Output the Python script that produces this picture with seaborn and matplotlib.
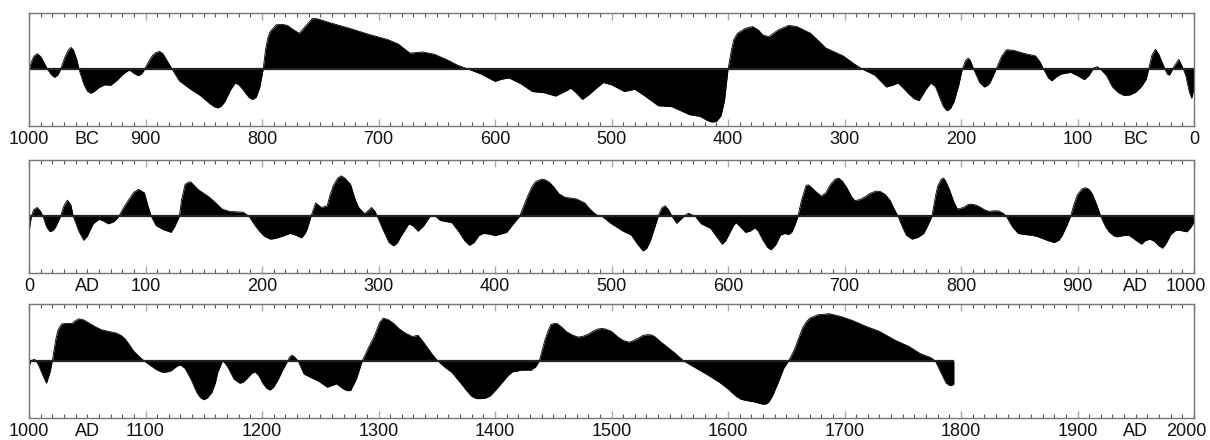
import numpy as np
import pandas as pd
import matplotlib
matplotlib.use("Agg")
import matplotlib.pyplot as plt
import matplotlib.transforms as mtransforms
import seaborn as sns

# ---------------- data ----------------
# Panel 1: (year BC, value), 1000 BC -> 0
bc_points = [(1000,0),(998,1.3),(996,2.3),(993,2.8),(990,2.3),(987,1.2),(984,0),(981,-0.9),(978,-1.4),
    (975,-0.9),(973,0),(969,2.3),(966,3.5),(964,3.9),(962,3.5),(959,1.8),(957,0),(953,-2.6),(950,-3.8),
    (947,-4.2),(944,-3.9),(940,-3.2),(935,-2.7),(930,-2.8),(925,-2.0),(919,-0.8),(915,-0.2),(913,-0.2),
    (909,-0.8),(906,-1.1),(903,-0.7),(901,0),(897,1.5),(894,2.5),(891,3.0),(888,3.2),(885,2.8),(881,1.4),
    (877,0),(871,-2.0),(862,-3.4),(853,-4.6),(845,-6.0),(841,-6.6),(838,-6.8),(835,-6.5),(832,-5.7),
    (827,-3.6),(823,-2.4),(820,-2.7),(817,-3.4),(811,-5.0),(808,-5.3),(805,-4.9),(802,-3.2),(799,0),
    (797,3.5),(795,5.6),(793,6.7),(788,7.9),(783,8.0),(778,7.8),(775,7.3),(768,6.4),(763,7.6),(757,9.0),
    (753,9.0),(742,8.3),(725,7.3),(708,6.2),(692,5.3),(683,4.5),(673,2.9),(662,3.1),(652,2.7),(642,1.8),
    (632,0.75),(622,0),(612,-0.8),(600,-2.1),(594,-1.7),(588,-1.5),(578,-2.5),(568,-3.9),(558,-4.1),
    (548,-4.7),(540,-3.9),(535,-3.3),(530,-4.2),(525,-5.3),(519,-4.4),(513,-3.3),(507,-2.3),(500,-2.7),
    (489,-3.9),(480,-3.5),(472,-4.6),(460,-6.4),(448,-6.6),(433,-8.0),(424,-8.3),(418,-9.0),(414,-9.3),
    (410,-9.2),(406,-8.2),(403,-5.5),(400,0),(397,3.5),(395,5.3),(392,6.4),(385,7.3),(379,7.6),(374,7.0),
    (370,6.1),(365,5.8),(357,7.0),(348,7.8),(341,7.6),(329,6.4),(316,3.8),(301,2.4),(291,0.9),(284,0),
    (274,-1.0),(264,-3.1),(259,-2.8),(254,-2.4),(249,-3.4),(245,-4.3),(240,-5.2),(236,-5.5),(230,-3.5),
    (226,-2.4),(222,-3.0),(218,-5.1),(215,-6.6),(212,-7.3),(209,-6.9),(206,-5.7),(202,-2.8),(199,0),
    (196,1.6),(194,2.0),(192,1.6),(189,0),(184,-2.3),(180,-3.1),(177,-2.8),(175,-2.3),(170,0),(165,2.4),
    (161,3.5),(155,3.4),(145,2.8),(136,2.4),(132,1.3),(129,0),(125,-1.5),(122,-2.0),(118,-1.3),
    (114,-0.8),(106,-0.5),(100,-1.1),(94,-1.8),(90,-1.0),(86,0.3),(83,0.5),(80,0.0),(75,-1.1),(70,-3.1),
    (65,-4.1),(60,-4.6),(55,-4.5),(50,-4.0),(45,-3.0),(41,-1.7),(39,0),(36,2.6),(33,3.6),(30,2.6),
    (26,0.6),(23,-0.8),(21,-1.0),(17,0.6),(13,1.8),(10,0.5),(7,-1.1),(4,-4.0),(2,-5.1),(0,-3.4)]

# Panel 2: (year AD, value), 0 -> 1000
ad1_points = [(0,-2.7),(2,0),(4,1.2),(7,1.6),(10,0.9),(12,0),(15,-1.8),(18,-2.7),(21,-2.4),(23,-1.8),
    (27,0),(30,1.9),(33,2.9),(36,2.0),(38,0),(43,-2.7),(47,-4.2),(50,-3.5),(55,-1.3),(60,-0.5),(64,-0.8),
    (68,-1.3),(72,-1.0),(74,-0.7),(77,0),(81,1.5),(85,2.8),(90,4.3),(94,4.8),(99,4.2),(102,2.0),(105,0),
    (109,-1.6),(115,-2.3),(122,-2.8),(125,-1.8),(129,0),(131,3.0),(134,5.7),(137,6.1),(139,6.1),(145,4.8),
    (155,3.4),(166,1.3),(172,0.9),(184,0.75),(189,0),(193,-1.3),(197,-2.4),(202,-3.5),(207,-4.0),
    (211,-3.9),(216,-3.6),(224,-3.0),(229,-3.3),(234,-3.8),(237,-3.0),(239,-2.1),(242,0),(246,2.4),
    (251,1.6),(256,1.9),(258,3.5),(261,5.4),(265,6.8),(268,7.2),(271,6.8),(276,5.7),(280,3.0),(283,1.6),
    (288,0.5),(291,1.0),(294,1.6),(297,0.9),(299,0),(304,-2.4),(309,-4.6),(313,-5.2),(316,-4.7),
    (319,-3.6),(326,-1.3),(330,-1.7),(334,-2.6),(339,-1.6),(344,0),(348,0.2),(353,-0.7),(363,-1.1),
    (369,-2.7),(374,-4.3),(378,-5.1),(382,-4.6),(386,-3.4),(390,-3.0),(395,-3.1),(400,-3.4),(410,-2.8),
    (415,-1.5),(421,0),(428,3.6),(432,5.4),(435,6.2),(440,6.6),(443,6.5),(447,6.0),(451,5.1),(455,4.0),
    (460,3.4),(470,3.1),(477,2.4),(482,1.2),(487,0.3),(492,0),(500,-1.3),(510,-2.6),(517,-3.3),
    (522,-4.8),(527,-6.1),(530,-5.7),(533,-4.5),(537,-2.0),(540,0),(543,1.5),(546,1.9),(549,1.2),
    (552,0),(556,-1.2),(559,-0.6),(562,0),(566,0.6),(569,0.3),(572,0),(577,-1.3),(585,-2.1),(590,-3.5),
    (595,-4.9),(598,-4.3),(602,-2.7),(605,-1.5),(607,-1.1),(610,-1.7),(615,-2.8),(619,-2.6),(623,-2.0),
    (626,-2.6),(630,-4.2),(634,-5.5),(637,-5.9),(641,-5.0),(645,-3.3),(649,-3.0),(652,-3.2),(655,-2.7),
    (658,-1.2),(660,0),(663,2.8),(667,5.5),(669,5.6),(672,5.1),(676,4.3),(680,3.6),(684,4.2),(688,5.7),
    (692,6.6),(695,6.8),(698,6.3),(702,5.1),(706,3.5),(709,2.8),(713,3.0),(717,3.4),(722,4.1),(727,4.5),
    (731,4.4),(735,3.9),(739,2.9),(742,1.6),(746,0),(750,-2.0),(753,-3.3),(758,-4.0),(763,-3.7),
    (768,-3.0),(771,-1.8),(775,0),(778,3.5),(780,5.4),(783,6.6),(785,6.8),(787,6.2),(790,4.8),(794,2.5),
    (797,1.3),(802,1.6),(806,2.1),(809,2.2),(813,2.0),(817,1.6),(820,1.2),(824,0.9),(828,1.0),(832,1.0),
    (836,0.6),(839,0),(844,-1.8),(849,-3.0),(855,-3.2),(860,-3.3),(865,-3.5),(870,-3.9),(875,-4.3),
    (880,-4.6),(884,-4.2),(887,-3.3),(891,-1.5),(894,0),(897,2.2),(900,3.9),(904,4.9),(907,5.1),
    (910,4.8),(913,3.9),(917,1.8),(920,0),(924,-1.8),(927,-2.7),(931,-3.4),(934,-3.6),(939,-3.4),
    (944,-3.3),(950,-4.2),(955,-4.9),(958,-4.3),(962,-4.0),(966,-4.4),(970,-5.2),(973,-5.6),(976,-4.8),
    (980,-3.2),(984,-2.5),(987,-2.4),(991,-2.6),(994,-2.7),(997,-2.0),(1000,-1.0)]

# Panel 3: (year AD, value), 1000 -> 2000 (record ends ~1794)
ad2_points = [(1000,-0.9),(1002,0.1),(1005,0.3),(1008,-0.6),(1012,-2.6),(1015,-3.9),(1018,-2.0),(1020,0),
    (1023,3.8),(1025,5.5),(1028,6.5),(1032,6.6),(1037,6.6),(1040,7.1),(1043,7.4),(1047,7.2),(1052,6.6),
    (1057,6.0),(1062,5.5),(1068,5.2),(1075,4.9),(1079,4.5),(1082,4.0),(1086,2.9),(1090,1.7),(1095,0.7),
    (1099,0),(1105,-0.9),(1110,-1.6),(1115,-2.0),(1119,-1.9),(1122,-1.7),(1127,-0.9),(1130,-0.7),
    (1134,-1.3),(1139,-3.2),(1144,-5.5),(1147,-6.4),(1150,-6.8),(1153,-6.5),(1157,-5.5),(1160,-3.8),
    (1162,-2.0),(1166,0),(1168,-0.3),(1171,-1.2),(1176,-3.2),(1181,-3.9),(1184,-3.7),(1187,-3.1),
    (1191,-2.2),(1194,-1.9),(1197,-2.5),(1201,-4.0),(1204,-4.8),(1207,-5.1),(1210,-4.6),(1214,-3.2),
    (1218,-1.5),(1222,0),(1224,0.8),(1226,1.0),(1228,0.7),(1231,0),(1236,-2.3),(1242,-2.9),(1249,-3.6),
    (1256,-4.6),(1260,-4.3),(1264,-4.0),(1269,-4.8),(1273,-5.2),(1276,-5.2),(1281,-3.2),(1286,0),
    (1292,2.6),(1296,4.2),(1298,5.2),(1301,6.8),(1304,7.5),(1308,7.3),(1313,6.6),(1318,5.6),(1323,4.9),
    (1329,4.3),(1334,4.5),(1339,3.2),(1346,1.2),(1351,0),(1357,-1.1),(1363,-2.0),(1371,-4.0),(1376,-5.3),
    (1380,-6.2),(1384,-6.6),(1388,-6.6),(1392,-6.5),(1396,-6.1),(1401,-5.0),(1406,-3.8),(1411,-2.6),
    (1415,-1.9),(1423,-1.6),(1431,-1.6),(1435,-1.0),(1438,0),(1443,3.8),(1446,5.5),(1448,6.4),(1451,6.6),
    (1453,6.6),(1457,6.0),(1461,5.2),(1466,4.6),(1471,4.2),(1475,4.3),(1480,4.7),(1484,5.2),(1488,5.6),
    (1492,5.7),(1495,5.6),(1500,5.2),(1505,4.3),(1510,3.6),(1515,3.3),(1519,3.6),(1523,4.0),(1527,4.5),
    (1530,4.6),(1534,4.6),(1537,4.3),(1542,3.4),(1547,2.6),(1555,1.3),(1562,0),(1573,-1.3),(1583,-2.5),
    (1593,-3.8),(1600,-4.9),(1607,-6.2),(1611,-6.7),(1615,-6.9),(1623,-7.2),(1630,-7.6),(1633,-7.5),
    (1635,-7.2),(1638,-6.2),(1642,-4.3),(1648,-1.2),(1652,0),(1657,2.0),(1661,4.2),(1664,5.8),(1667,6.8),
    (1670,7.5),(1677,8.1),(1687,8.3),(1697,7.8),(1707,7.1),(1717,6.2),(1730,5.2),(1744,3.6),(1755,2.6),
    (1765,1.3),(1774,0.6),(1778,0),(1782,-1.7),(1787,-3.8),(1790,-4.3),(1792,-4.3),(1794,-4.0)]

# tick labels
p1_ticks = [1000, 900, 800, 700, 600, 500, 400, 300, 200, 100, 0]
p2_ticks = [0, 100, 200, 300, 400, 500, 600, 700, 800, 900, 1000]
p3_ticks = [1000, 1100, 1200, 1300, 1400, 1500, 1600, 1700, 1800, 1900, 2000]
era_labels = ["BC", "AD", "AD"]

# ---------------- plotting ----------------
sns.set_theme(style="white")
plt.rcParams["font.family"] = ["Liberation Sans", "DejaVu Sans"]

FS = 13
PAD = 3.5
fig = plt.figure(figsize=(12.1, 4.4), dpi=100)
left, width = 29 / 1210, 1165 / 1210
rects = [(126, 113), (273, 113), (418, 114)]

def frame(points, sign):
    yrs, vals = zip(*points)
    return pd.DataFrame({"x": [sign * y for y in yrs], "v": list(vals)})

panels = [
    (frame(bc_points, -1), (-1000, 0), [-t for t in p1_ticks], [str(t) for t in p1_ticks], [-950, -50]),
    (frame(ad1_points, 1), (0, 1000), p2_ticks, [str(t) for t in p2_ticks], [50, 950]),
    (frame(ad2_points, 1), (1000, 2000), p3_ticks, [str(t) for t in p3_ticks], [1050, 1950]),
]

for i, ((df, xlim, ticks, labels, era_pos), (bot, h)) in enumerate(zip(panels, rects)):
    ax = fig.add_axes([left, 1 - bot / 440, width, h / 440])
    ax.fill_between(df["x"], df["v"], 0, color="black", linewidth=0)
    sns.lineplot(data=df, x="x", y="v", ax=ax, color="black", linewidth=0.6,
                 estimator=None, sort=False)
    ax.hlines(0, df["x"].min(), df["x"].max(), color="#222222", linewidth=1.6)
    ax.set_xlim(*xlim)
    ax.set_ylim(-10, 10)
    ax.set_yticks([])
    ax.set_xlabel("")
    ax.set_ylabel("")
    ax.set_xticks(ticks)
    ax.set_xticklabels(labels, fontsize=FS, color="#111111")
    ax.set_xticks(np.arange(xlim[0], xlim[1] + 1, 10), minor=True)
    ax.tick_params(axis="x", which="major", direction="in", length=5, width=1.0,
                   color="#aaaaaa", top=True, bottom=True, pad=PAD)
    ax.tick_params(axis="x", which="minor", direction="in", length=3, width=0.8,
                   color="#555555", top=True, bottom=True)
    for s in ax.spines.values():
        s.set_color("#777777")
        s.set_linewidth(1.0)
    for p in era_pos:
        ax.annotate(era_labels[i], xy=(p, 0), xycoords=("data", "axes fraction"),
                    xytext=(0, -PAD), textcoords="offset points",
                    ha="center", va="top", fontsize=FS, color="#111111")
    if i > 0:
        lab = ax.get_xticklabels()[-1]
        lab.set_transform(lab.get_transform() +
                          mtransforms.ScaledTranslation(-0.08, 0, fig.dpi_scale_trans))

fig.savefig("out.png", dpi=100)
